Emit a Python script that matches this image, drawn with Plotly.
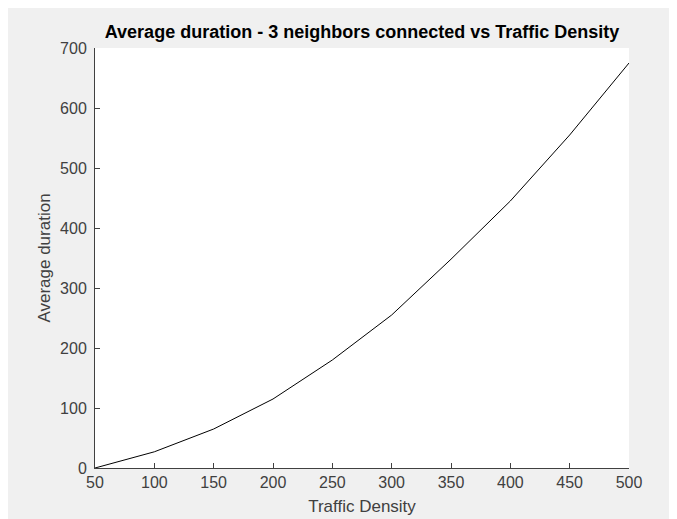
import plotly.graph_objects as go

traffic_density = [50, 100, 150, 200, 250, 300, 350, 400, 450, 500]
avg_duration = [0, 27, 65, 115, 180, 255, 348, 445, 555, 675]

x_ticks = [50, 100, 150, 200, 250, 300, 350, 400, 450, 500]
y_ticks = [0, 100, 200, 300, 400, 500, 600, 700]

FONT = "Liberation Sans, Arial, sans-serif"

fig = go.Figure()
fig.add_trace(go.Scatter(
    x=traffic_density, y=avg_duration, mode="lines",
    line=dict(color="black", width=1), showlegend=False,
))

axis_common = dict(
    showgrid=False, zeroline=False, showline=True, linecolor="#404040",
    linewidth=1, ticks="inside", ticklen=5, tickcolor="#404040",
    tickfont=dict(family=FONT, size=16, color="#404040"),
    mirror=False, automargin=False,
)

fig.update_layout(
    width=677, height=519,
    margin=dict(l=87, r=56, t=40, b=59),
    paper_bgcolor="#f0f0f0", plot_bgcolor="white",
    title=dict(
        text="<b>Average duration - 3 neighbors connected vs Traffic Density</b>",
        x=(87 + 621) / 2 / 677, xanchor="center", y=1 - 24 / 519, yanchor="middle",
        font=dict(family=FONT, size=18, color="black"),
    ),
    xaxis=dict(
        range=[50, 500], tickvals=x_ticks,
        title=dict(text="Traffic Density", standoff=9,
                   font=dict(family=FONT, size=17, color="#404040")),
        **axis_common,
    ),
    yaxis=dict(
        range=[0, 700], tickvals=y_ticks, ticklabelstandoff=4,
        title=dict(text="Average duration", standoff=5,
                   font=dict(family=FONT, size=17, color="#404040")),
        **axis_common,
    ),
)

fig.write_html("out.html")
